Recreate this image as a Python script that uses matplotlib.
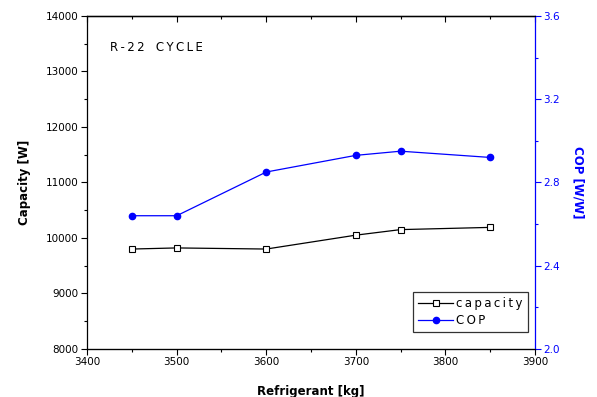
import matplotlib
matplotlib.use('Agg')
import matplotlib.pyplot as plt
from matplotlib.ticker import MultipleLocator, FormatStrFormatter

# data
refrigerant = [3450, 3500, 3600, 3700, 3750, 3850]
capacity = [9800, 9820, 9800, 10050, 10150, 10190]
cop = [2.64, 2.64, 2.85, 2.93, 2.95, 2.92]

plt.rcParams['font.family'] = ['DejaVu Sans']
blue = '#0000ff'
sp = '\u2009'  # thin space for the wide letter spacing


def spaced(s):
    return sp.join(s)


fig = plt.figure(figsize=(5.97, 3.97), dpi=100)
ax1 = fig.add_axes([0.146, 0.121, 0.750, 0.839])
ax2 = ax1.twinx()

l1, = ax1.plot(refrigerant, capacity, color='black', linewidth=0.9,
               marker='s', markersize=4, markerfacecolor='white',
               markeredgecolor='black', markeredgewidth=0.8, label=spaced('capacity'))
l2, = ax2.plot(refrigerant, cop, color=blue, linewidth=0.9,
               marker='o', markersize=4.5, markerfacecolor=blue,
               markeredgecolor=blue, label=spaced('COP'))

ax1.set_xlim(3400, 3900)
ax1.set_ylim(8000, 14000)
ax2.set_ylim(2.0, 3.6)

ax1.xaxis.set_major_locator(MultipleLocator(100))
ax1.xaxis.set_minor_locator(MultipleLocator(50))
ax1.yaxis.set_major_locator(MultipleLocator(1000))
ax1.yaxis.set_minor_locator(MultipleLocator(500))
ax2.yaxis.set_major_locator(MultipleLocator(0.4))
ax2.yaxis.set_minor_locator(MultipleLocator(0.2))
ax2.yaxis.set_major_formatter(FormatStrFormatter('%.1f'))

ax1.tick_params(axis='both', which='major', length=4, width=0.8, labelsize=7.5, pad=2)
ax1.tick_params(axis='both', which='minor', length=2.5, width=0.8)
ax2.tick_params(axis='y', which='major', length=4, width=0.8, labelsize=7.5,
                colors=blue, pad=2)
ax2.tick_params(axis='y', which='minor', length=2.5, width=0.8, colors=blue)

# mirrored ticks on top, pointing inward
top = ax1.secondary_xaxis('top')
top.xaxis.set_major_locator(MultipleLocator(100))
top.xaxis.set_minor_locator(MultipleLocator(50))
top.tick_params(which='major', direction='in', length=4, width=0.8, labeltop=False)
top.tick_params(which='minor', direction='in', length=2.5, width=0.8)
top.spines['top'].set_linewidth(0.9)

for s in ['left', 'top', 'bottom']:
    ax1.spines[s].set_linewidth(0.9)
ax2.spines['right'].set_color(blue)
ax2.spines['right'].set_linewidth(0.9)
ax2.spines['left'].set_visible(False)
ax1.spines['right'].set_visible(False)

ax1.set_xlabel('Refrigerant [kg]', fontsize=8.5, fontweight='bold', labelpad=13)
ax1.set_ylabel('Capacity [W]', fontsize=8.5, fontweight='bold', labelpad=11)
ax2.set_ylabel('COP [W/W]', fontsize=8.5, fontweight='bold', color=blue,
               rotation=270, labelpad=18)

ax1.text(0.051, 0.905, spaced('R-22') + '   ' + spaced('CYCLE'),
         transform=ax1.transAxes, fontsize=8.5, va='center', ha='left')

leg = ax1.legend(handles=[l1, l2], loc='lower right', bbox_to_anchor=(0.985, 0.05),
                 fontsize=8.5, frameon=True, fancybox=False, edgecolor='black',
                 handlelength=3.0, borderpad=0.45, labelspacing=0.35,
                 handletextpad=0.25, borderaxespad=0)
leg.get_frame().set_linewidth(0.9)

fig.savefig('out.png', dpi=100)
